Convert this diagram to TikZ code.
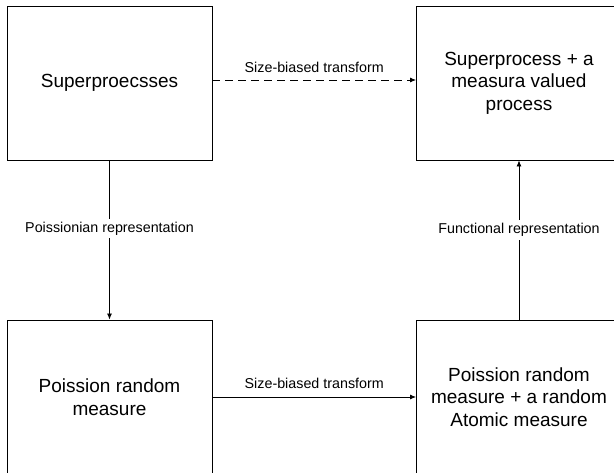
\documentclass[tikz,border=0pt]{standalone}
\usepackage{fontspec}
\setmainfont{Liberation Sans}
\usetikzlibrary{arrows.meta}

\tikzset{
  box/.style={draw=black,line width=0.9pt,minimum width=205pt,minimum height=154pt,
    inner sep=0pt,align=center,font=\fontsize{19}{22.5}\selectfont},
  conn/.style={draw=black,line width=0.8pt,-{Latex[length=6pt,width=5pt]}},
  lbl/.style={font=\fontsize{14.3}{16}\selectfont,inner sep=0pt},
  vlbl/.style={lbl,fill=white,anchor=base,inner xsep=1pt,inner ysep=3pt}
}

\begin{document}
\begin{tikzpicture}[x=1pt,y=-1pt]
\useasboundingbox (0,0) rectangle (614,473);
\node[box] (sup) at (109.5,83) {Superproecsses};
\node[box] (supm) at (519,83) {Superprocess + a\\measura valued\\process};
\node[box] (prm) at (109.5,397) {Poission random\\measure};
\node[box] (prma) at (519,397) {Poission random\\measure + a random\\Atomic measure};
\draw[conn,dash pattern=on 8pt off 5pt] ([yshift=3pt]sup.east) -- node[lbl,anchor=base,yshift=7pt] {Size-biased transform} ([yshift=3pt]supm.west);
\draw[conn] (prm.east) -- node[lbl,anchor=base,yshift=8pt] {Size-biased transform} (prma.west);
\draw[conn] (sup.south) -- node[vlbl,pos=0.45] {Poissionian representation} (prm.north);
\draw[conn] (prma.north) -- node[vlbl,pos=0.54] {Functional representation} (supm.south);
\end{tikzpicture}
\end{document}
